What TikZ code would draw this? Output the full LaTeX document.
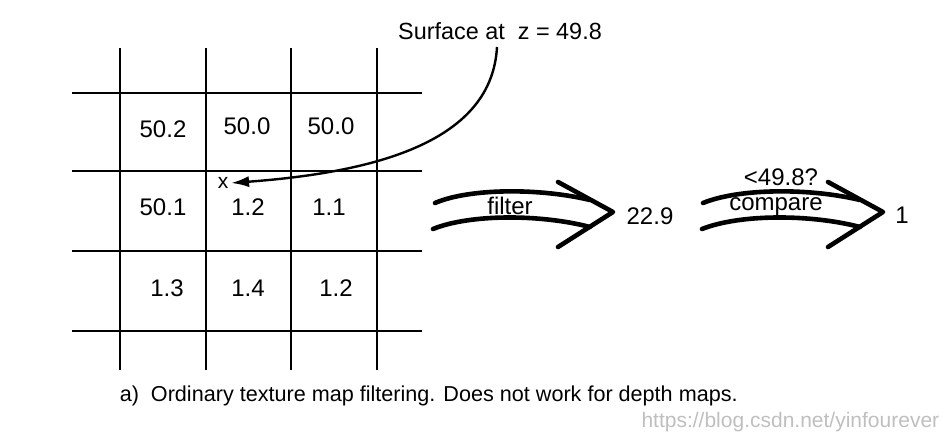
\documentclass[tikz,border=0pt]{standalone}
\usepackage{fontspec}
\setmainfont{Liberation Sans}
\usetikzlibrary{arrows.meta}
\tikzset{
  gridline/.style={line width=1pt},
  bigarrow/.style={line width=2.3pt,line cap=round,line join=round},
  val/.style={font=\fontsize{12}{14}\selectfont,inner sep=1pt}
}
\begin{document}
\begin{tikzpicture}[x=0.5pt,y=-0.5pt,style=thick]
  \useasboundingbox (0,0) rectangle (950,439);
  %%% grid points
  \path (120,48) coordinate (t1);  \path (120,370) coordinate (b1);
  \path (206,48) coordinate (t2);  \path (206,370) coordinate (b2);
  \path (291,48) coordinate (t3);  \path (291,370) coordinate (b3);
  \path (377,48) coordinate (t4);  \path (377,370) coordinate (b4);
  %%%
  \path (72,93) coordinate (l1);   \path (422,93) coordinate (r1);
  \path (72,171) coordinate (l2);  \path (422,171) coordinate (r2);
  \path (72,251) coordinate (l3);  \path (422,251) coordinate (r3);
  \path (72,331) coordinate (l4);  \path (422,331) coordinate (r4);
  %%% grid lines
  \draw[gridline] (t1) -- (b1); \draw[gridline] (t2) -- (b2);
  \draw[gridline] (t3) -- (b3); \draw[gridline] (t4) -- (b4);
  \draw[gridline] (l1) -- (r1); \draw[gridline] (l2) -- (r2);
  \draw[gridline] (l3) -- (r3); \draw[gridline] (l4) -- (r4);
  %%% cell values
  \node[val] (c11) at (163,129) {50.2};
  \node[val] (c12) at (247,126) {50.0};
  \node[val] (c13) at (331,126) {50.0};
  \node[val] (c21) at (163,207) {50.1};
  \node[val] (c22) at (248,207) {1.2};
  \node[val] (c23) at (329,207) {1.1};
  \node[val] (c31) at (167,288) {1.3};
  \node[val] (c32) at (248,288) {1.4};
  \node[val] (c33) at (336,288) {1.2};
  %%% surface depth and sample point
  \node[val,font=\fontsize{11.7}{14}\selectfont] (surf) at (500,31) {Surface at \ z = 49.8};
  \node[val,font=\fontsize{10.5}{12}\selectfont] (x) at (223,183) {x};
  \path (497,47) coordinate (s0);
  \draw[line width=1.2pt,-{Latex[length=9pt,width=5.5pt]}] (s0) .. controls (492,140) and (380,172) .. (x.east);
  %%% filter arrow
  \path (435,203) coordinate (fu1); \path (590,200) coordinate (fu2);
  \path (433,229) coordinate (fl1); \path (590,227) coordinate (fl2);
  \path (558,182) coordinate (fa); \path (613,212) coordinate (ftip); \path (558,247) coordinate (fb);
  \draw[bigarrow] (fu1) .. controls (470,188) and (540,188) .. (fu2);
  \draw[bigarrow] (fl1) .. controls (470,214) and (540,214) .. (fl2);
  \draw[bigarrow] (fa) -- (ftip) -- (fb);
  \node[val] (filter) at (510,206) {filter};
  \node[val] (res) at (650,216) {22.9};
  %%% compare arrow
  \path (703,203) coordinate (cu1); \path (860,200) coordinate (cu2);
  \path (702,229) coordinate (cl1); \path (860,227) coordinate (cl2);
  \path (828,182) coordinate (ca); \path (883,212) coordinate (ctip); \path (828,247) coordinate (cb);
  \draw[bigarrow] (cu1) .. controls (740,188) and (810,188) .. (cu2);
  \draw[bigarrow] (cl1) .. controls (740,214) and (810,214) .. (cl2);
  \draw[bigarrow] (ca) -- (ctip) -- (cb);
  \node[val] (test) at (781,177) {<49.8?};
  \node[val] (compare) at (776,207) {compare};
  \node[val] (one) at (902,215) {1};
  %%% text
  \node[val,anchor=west,font=\fontsize{10.8}{13}\selectfont] (caption) at (117,396) {a)\ \ Ordinary texture map filtering. Does not work for depth maps.};
  \node[val,anchor=east,text=black!25,font=\fontsize{10.5}{13}\selectfont] (mark) at (942,422) {https://blog.csdn.net/yinfourever};
\end{tikzpicture}
\end{document}
